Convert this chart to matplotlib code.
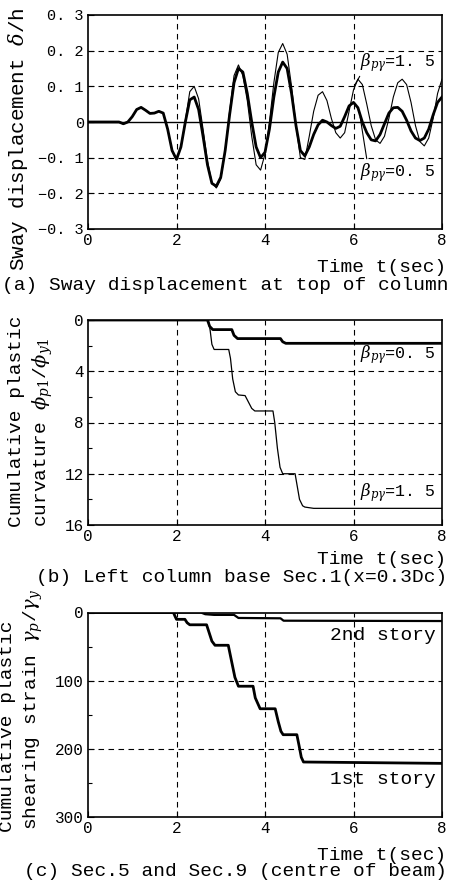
import numpy as np
import matplotlib
matplotlib.use('Agg')
import matplotlib.pyplot as plt

plt.rcParams['font.family'] = ['Liberation Mono', 'DejaVu Sans']
plt.rcParams['mathtext.fontset'] = 'dejavuserif'

# (a) sway displacement, sampled every 0.1 s
t_a = np.round(np.arange(0, 8.01, 0.1), 1)
sway_b05 = [0, 0, 0, 0, 0, 0, 0, 0, -0.005, 0.0,
            0.015, 0.035, 0.041, 0.033, 0.024, 0.025, 0.030, 0.025, -0.02, -0.08,
            -0.105, -0.07, 0.0, 0.062, 0.07, 0.035, -0.04, -0.12, -0.172, -0.18,
            -0.155, -0.08, 0.02, 0.11, 0.15, 0.14, 0.08, 0.0, -0.07, -0.1,
            -0.085, -0.02, 0.07, 0.14, 0.168, 0.15, 0.08, -0.01, -0.08, -0.095,
            -0.07, -0.035, -0.008, 0.005, 0.0, -0.01, -0.018, -0.012, 0.015, 0.045,
            0.055, 0.04, 0.0, -0.03, -0.05, -0.053, -0.035, -0.005, 0.025, 0.04,
            0.041, 0.03, 0.005, -0.025, -0.045, -0.052, -0.045, -0.02, 0.02, 0.055,
            0.07]
sway_b15 = [0, 0, 0, 0, 0, 0, 0, 0, -0.005, 0.0,
            0.015, 0.035, 0.041, 0.033, 0.024, 0.025, 0.030, 0.025, -0.02, -0.08,
            -0.105, -0.07, 0.005, 0.085, 0.1, 0.065, -0.02, -0.11, -0.17, -0.185,
            -0.16, -0.08, 0.03, 0.13, 0.16, 0.13, 0.06, -0.04, -0.12, -0.135,
            -0.09, 0.0, 0.11, 0.195, 0.22, 0.19, 0.1, -0.01, -0.1, -0.105,
            -0.04, 0.03, 0.075, 0.085, 0.06, 0.01, -0.03, -0.045, -0.03, 0.03,
            0.09, 0.12, 0.105, 0.05, -0.01, -0.05, -0.06, -0.04, 0.01, 0.07,
            0.11, 0.12, 0.105, 0.055, -0.01, -0.055, -0.067, -0.045, 0.01, 0.08,
            0.12]

# (b) cumulative plastic curvature
t_b15 = [0, 2.72, 2.76, 2.80, 2.85, 3.18, 3.22, 3.27, 3.33, 3.40, 3.55, 3.70, 3.77,
         4.18, 4.22, 4.28, 4.34, 4.40, 4.68, 4.72, 4.78, 4.85, 4.90, 5.1, 8]
curv_b15 = [0, 0, 0.8, 1.9, 2.3, 2.3, 3.0, 4.6, 5.6, 5.85, 5.9, 6.9, 7.1,
            7.1, 8.0, 10.0, 11.5, 12.0, 12.0, 12.8, 14.0, 14.5, 14.6, 14.7, 14.7]
t_b05 = [0, 2.70, 2.75, 2.82, 3.25, 3.30, 3.38, 4.35, 4.40, 4.47, 8]
curv_b05 = [0, 0, 0.5, 0.75, 0.75, 1.2, 1.45, 1.45, 1.7, 1.82, 1.82]

# (c) cumulative plastic shearing strain
t_1st = [0, 1.93, 1.97, 2.0, 2.19, 2.24, 2.3, 2.68, 2.74, 2.80, 2.87, 3.17, 3.24, 3.32, 3.40,
         3.73, 3.78, 3.89, 4.23, 4.30, 4.36, 4.41, 4.72, 4.77, 4.82, 4.87, 8]
gam_1st = [0, 0, 6, 10, 10, 15, 18, 18, 30, 42, 48, 48, 70, 95, 108,
           108, 125, 141, 141, 160, 174, 179, 179, 195, 212, 219, 221]
t_2nd = [0, 2.55, 2.65, 2.85, 3.30, 3.40, 4.35, 4.42, 8]
gam_2nd = [0, 0, 2.5, 3.5, 3.5, 8.0, 8.5, 12.0, 12.5]

xticks = [0, 2, 4, 6, 8]
fig = plt.figure(figsize=(4.55, 8.86), dpi=100)
TICK_FS = 11.5
BETA_FS = 12

def frame(ax):
    ax.set_xlim(0, 8)
    ax.set_xticks(xticks)
    ax.set_xticklabels([str(v) for v in xticks], fontsize=TICK_FS)
    ax.tick_params(direction='in', length=4, width=0.8, pad=3)
    ax.tick_params(which='minor', direction='in', length=3, width=0.8)
    for s in ax.spines.values():
        s.set_linewidth(1.2)
    for x in [2, 4, 6]:
        ax.axvline(x, color='k', lw=0.8, ls=(0, (5, 4)))

def hgrid(ax, ys):
    for y in ys:
        ax.axhline(y, color='k', lw=0.8, ls=(0, (5, 4)))

W = 455.0; H = 886.0
def axrect(top, bot):
    return [88 / W, 1 - bot / H, (442 - 88) / W, (bot - top) / H]

# ---- (a)
ax = fig.add_axes(axrect(15, 229))
frame(ax)
ax.set_ylim(-0.3, 0.3)
yt = [-0.3, -0.2, -0.1, 0, 0.1, 0.2, 0.3]
ax.set_yticks(yt)
ax.set_yticklabels(['\u22120. 3', '\u22120. 2', '\u22120. 1', '0', '0. 1', '0. 2', '0. 3'],
                   fontsize=11)
hgrid(ax, [-0.2, -0.1, 0.1, 0.2])
ax.axhline(0, color='k', lw=1.0)
ax.plot(t_a, sway_b15, color='k', lw=0.8)
ax.plot(t_a, sway_b05, color='k', lw=2.0)
ax.annotate(r'$\beta_{p\gamma}$=1. 5', xy=(6.03, 0.104), xytext=(6.15, 0.168),
            fontsize=BETA_FS, va='center', ha='left',
            arrowprops=dict(arrowstyle='-', lw=0.8, color='k', shrinkA=0, shrinkB=0,
                            relpos=(0.05, 0.2)))
ax.annotate(r'$\beta_{p\gamma}$=0. 5', xy=(6.15, 0.014), xytext=(6.15, -0.143),
            fontsize=BETA_FS, va='center', ha='left',
            arrowprops=dict(arrowstyle='-', lw=0.8, color='k', shrinkA=0, shrinkB=0,
                            relpos=(0.1, 0.85)))
fig.text(18 / W, 1 - 139 / H, r'Sway displacement $\delta$/h', rotation=90,
         ha='center', va='center', fontsize=15)
fig.text(446 / W, 1 - 268 / H, 'Time t(sec)', ha='right', va='center', fontsize=14)
fig.text(449 / W, 1 - 285 / H, '(a) Sway displacement at top of column',
         ha='right', va='center', fontsize=14)

# ---- (b)
ax = fig.add_axes(axrect(320, 525))
frame(ax)
ax.set_ylim(16, 0)
ax.set_yticks([0, 4, 8, 12, 16])
ax.set_yticklabels(['0', '4', '8', '12', '16'], fontsize=TICK_FS)
ax.set_yticks([2, 6, 10, 14], minor=True)
hgrid(ax, [4, 8, 12])
ax.plot(t_b15, curv_b15, color='k', lw=0.9)
ax.plot(t_b05, curv_b05, color='k', lw=2.0)
ax.text(6.15, 2.7, r'$\beta_{p\gamma}$=0. 5', fontsize=BETA_FS, va='center', ha='left')
ax.text(6.15, 13.5, r'$\beta_{p\gamma}$=1. 5', fontsize=BETA_FS, va='center', ha='left')
fig.text(17 / W, 1 - 527 / H, 'Cumulative plastic', rotation=90,
         ha='center', va='bottom', fontsize=14)
fig.text(43 / W, 1 - 527 / H, r'curvature $\phi_{p1}$/$\phi_{y1}$', rotation=90,
         ha='center', va='bottom', fontsize=14)
fig.text(446 / W, 1 - 560 / H, 'Time t(sec)', ha='right', va='center', fontsize=14)
fig.text(447 / W, 1 - 577 / H, '(b) Left column base Sec.1(x=0.3Dc)',
         ha='right', va='center', fontsize=14)

# ---- (c)
ax = fig.add_axes(axrect(612.5, 817.3))
frame(ax)
ax.set_ylim(300, 0)
ax.set_yticks([0, 100, 200, 300])
ax.set_yticklabels(['0', '100', '200', '300'], fontsize=TICK_FS)
ax.set_yticks([50, 150, 250], minor=True)
hgrid(ax, [100, 200])
ax.plot(t_2nd, gam_2nd, color='k', lw=1.6)
ax.plot(t_1st, gam_1st, color='k', lw=2.0)
ax.text(7.86, 33, '2nd story', fontsize=14, va='center', ha='right')
ax.text(7.86, 245, '1st story', fontsize=14, va='center', ha='right')
fig.text(8 / W, 1 - 832 / H, 'Cumulative plastic', rotation=90,
         ha='center', va='bottom', fontsize=14)
fig.text(33 / W, 1 - 830 / H, r'shearing strain $\gamma_p$/$\gamma_y$', rotation=90,
         ha='center', va='bottom', fontsize=14)
fig.text(446 / W, 1 - 855 / H, 'Time t(sec)', ha='right', va='center', fontsize=14)
fig.text(447 / W, 1 - 872 / H, '(c) Sec.5 and Sec.9 (centre of beam)',
         ha='right', va='center', fontsize=14)

fig.savefig('out.png', dpi=100)
